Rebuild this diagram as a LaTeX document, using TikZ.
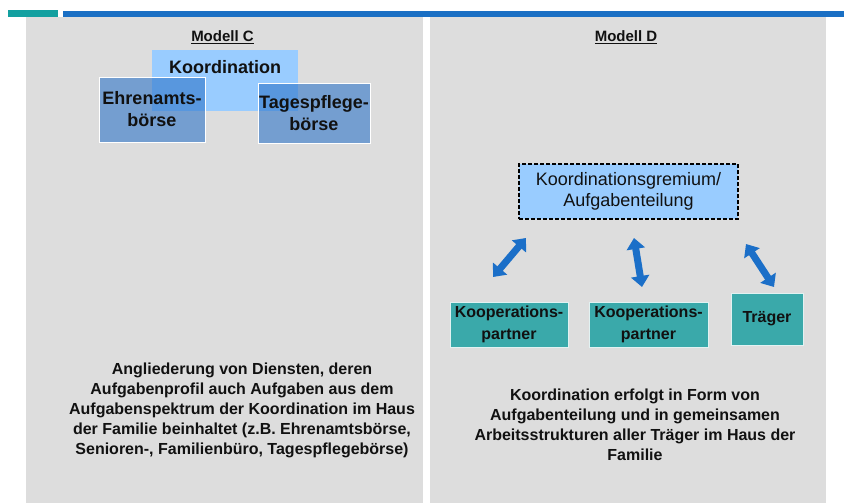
\documentclass[tikz,border=0pt]{standalone}
\usepackage{fontspec}
\setmainfont{Liberation Sans}
\usetikzlibrary{arrows.meta}
\definecolor{panelgray}{HTML}{DDDDDD}
\definecolor{barteal}{HTML}{13A0A0}
\definecolor{barblue}{HTML}{1A6FC4}
\definecolor{lightblue}{HTML}{99CCFF}
\definecolor{midblue}{HTML}{2E75C8}
\definecolor{boxteal}{HTML}{3AA9AA}
\definecolor{arrowblue}{HTML}{1B6FC8}
\definecolor{txt}{HTML}{111111}
\tikzset{
  panel/.style={fill=panelgray, draw=none},
  titletext/.style={font=\fontsize{15}{18}\selectfont\bfseries, text=txt},
  cbox/.style={fill=midblue, fill opacity=0.6, draw=white, line width=0.8pt, text opacity=1, inner sep=0pt,
    font=\fontsize{18}{22}\selectfont\bfseries, text=txt, align=center},
  ctext/.style={font=\fontsize{18}{22}\selectfont\bfseries, text=txt},
  gremium/.style={fill=lightblue, draw=black, dashed, dash pattern=on 4pt off 2pt, line width=1.2pt,
    inner sep=0pt, font=\fontsize{18}{21.5}\selectfont, text=txt, align=center},
  tbox/.style={fill=boxteal, draw=white!85!boxteal, line width=0.8pt, inner sep=0pt,
    font=\fontsize{16}{21.5}\selectfont\bfseries, text=txt, align=center},
  bodytext/.style={font=\fontsize{16}{20}\selectfont\bfseries, text=txt, align=center},
  dblarrow/.style={draw=arrowblue, line width=7pt,
    {Triangle[length=11pt,width=18pt]}-{Triangle[length=11pt,width=18pt]}}
}
\begin{document}
\begin{tikzpicture}[x=1pt,y=-1pt]
\useasboundingbox[fill=white] (0,0) rectangle (844,503);
% top bars
\fill[barteal] (8,10) rectangle (58,17);
\fill[barblue] (63,11) rectangle (844,17);
% panels
\fill[panelgray] (26,17) rectangle (423,503);
\fill[panelgray] (430,17) rectangle (826,503);
% titles
\node[titletext] (titleC) at (222.5,37) {\underline{Modell C}};
\node[titletext] (titleD) at (626,37) {\underline{Modell D}};
% Modell C
\node[fill=lightblue, draw=none, inner sep=0pt, minimum width=146pt, minimum height=61pt] (koordbox) at (225,80.5) {};
\node[ctext] (koordtext) at (225,67) {Koordination};
\node[cbox, minimum width=106pt, minimum height=65pt] (ehren) at (152,109.5) {Ehrenamts-\\börse};
\node[cbox, minimum width=112pt, minimum height=60pt] (tages) at (314,113) {Tagespflege-\\börse};
\node[bodytext] (textC) at (242,410) {Angliederung von Diensten, deren\\Aufgabenprofil auch Aufgaben aus dem\\Aufgabenspektrum der Koordination im Haus\\der Familie beinhaltet (z.B. Ehrenamtsbörse,\\Senioren-, Familienbüro, Tagespflegebörse)};
% Modell D
\node[gremium, minimum width=219pt, minimum height=55pt] (grem) at (628.5,191.5) {Koordinationsgremium/\\Aufgabenteilung};
\node[tbox, minimum width=118pt, minimum height=45pt] (koop1) at (509,324.5) {Kooperations-\\partner};
\node[tbox, minimum width=119pt, minimum height=45pt] (koop2) at (648.5,324.5) {Kooperations-\\partner};
\node[tbox, minimum width=72pt, minimum height=52pt] (traeger) at (767,319) {Träger};
\coordinate (a1s) at (493,277);
\coordinate (a1e) at (526,238);
\coordinate (a2s) at (634,238);
\coordinate (a2e) at (642,287);
\coordinate (a3s) at (746,244);
\coordinate (a3e) at (774,287);
\draw[dblarrow] (a1s) -- (a1e);
\draw[dblarrow] (a2s) -- (a2e);
\draw[dblarrow] (a3s) -- (a3e);
\node[bodytext] (textD) at (635,425) {Koordination erfolgt in Form von\\Aufgabenteilung und in gemeinsamen\\Arbeitsstrukturen aller Träger im Haus der\\Familie};
\end{tikzpicture}
\end{document}
